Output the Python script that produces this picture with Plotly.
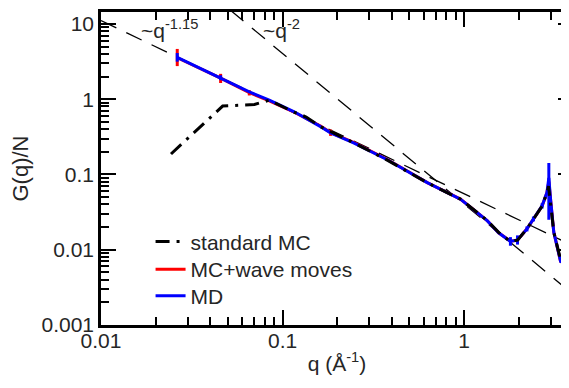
import plotly.graph_objects as go

# ---- data ----
q_md = [0.0263, 0.0456, 0.0656, 0.0845, 0.116, 0.162, 0.184, 0.248, 0.3775, 0.627, 0.774,
        0.955, 1.34, 1.55, 1.80, 1.97, 2.22, 2.41, 2.69, 2.86, 2.93, 3.0, 3.12, 3.40, 3.62]
G_md = [3.6, 1.93, 1.25, 0.97, 0.68, 0.432, 0.357, 0.261, 0.157, 0.0778, 0.0603,
        0.0469, 0.0243, 0.0168, 0.0129, 0.0135, 0.0189, 0.0256, 0.0383, 0.0574, 0.09, 0.045, 0.0171, 0.0070, 0.0066]
err_md_plus = [0.5, 0.15, 0, 0, 0, 0, 0, 0, 0, 0, 0,
               0, 0, 0, 0.0018, 0.002, 0.0015, 0.002, 0.003, 0, 0.052, 0, 0, 0, 0]
err_md_minus = [0.45, 0.14, 0, 0, 0, 0, 0, 0, 0, 0, 0,
                0, 0, 0, 0.0016, 0.0018, 0.0014, 0.0018, 0.003, 0, 0.065, 0, 0, 0, 0]

q_wave = [0.0263, 0.0456, 0.0656, 0.0845, 0.116, 0.162, 0.184, 0.248, 0.3775, 0.627, 0.774,
          0.955, 1.34, 1.55, 1.80, 1.97, 2.22, 2.41, 2.69, 2.86, 2.93, 3.0, 3.12, 3.40, 3.62]
G_wave = [3.55, 1.9, 1.22, 0.95, 0.67, 0.44, 0.36, 0.265, 0.158, 0.078, 0.0605,
          0.047, 0.0244, 0.0168, 0.013, 0.0134, 0.019, 0.0255, 0.038, 0.057, 0.08, 0.045, 0.0172, 0.0070, 0.0066]
err_wave_plus = [1.1, 0.27, 0.1, 0, 0, 0, 0.035, 0, 0, 0, 0,
                 0, 0, 0, 0, 0, 0, 0, 0, 0, 0, 0, 0, 0, 0]
err_wave_minus = [0.8, 0.26, 0.1, 0, 0, 0, 0.035, 0, 0, 0, 0,
                  0, 0, 0, 0, 0, 0, 0, 0, 0, 0, 0, 0, 0, 0]

q_mc = [0.0243, 0.0468, 0.070, 0.0845, 0.116, 0.135, 0.162, 0.2, 0.248, 0.3775, 0.627,
        0.955, 1.34, 1.55, 1.80, 1.97, 2.22, 2.41, 2.69, 2.86, 2.92, 3.12, 3.40, 3.58]
G_mc = [0.187, 0.81, 0.85, 0.97, 0.67, 0.58, 0.43, 0.34, 0.262, 0.155, 0.0775,
        0.047, 0.0245, 0.017, 0.0128, 0.0134, 0.019, 0.0255, 0.038, 0.057, 0.070, 0.0171, 0.0074, 0.0066]

# guide power laws  G = A * q^(-n)
guide_q = [0.01, 4.0]
A_115, n_115 = 0.0554, 1.15
A_2, n_2 = 0.0405, 2.0

x_tickvals = [0.01, 0.1, 1]
x_ticktext = ["0.01", "0.1", "1"]
y_tickvals = [0.001, 0.01, 0.1, 1, 10]
y_ticktext = ["0.001", "0.01", "0.1", "1", "10"]

FONT = "Liberation Sans, Arial, sans-serif"
TXT = "#262626"
FS = 21

fig = go.Figure()

dash_guide = "17px,11px"
fig.add_trace(go.Scatter(x=guide_q, y=[A_115 * q ** (-n_115) for q in guide_q], mode="lines",
                         line=dict(color="black", width=1.3, dash=dash_guide),
                         showlegend=False, hoverinfo="skip"))
fig.add_trace(go.Scatter(x=guide_q, y=[A_2 * q ** (-n_2) for q in guide_q], mode="lines",
                         line=dict(color="black", width=1.3, dash=dash_guide),
                         showlegend=False, hoverinfo="skip"))

fig.add_trace(go.Scatter(x=q_wave, y=G_wave, mode="lines", name="MC+wave moves", legend="legend2",
                         line=dict(color="#ff0000", width=3),
                         error_y=dict(type="data", array=err_wave_plus, arrayminus=err_wave_minus,
                                      symmetric=False, color="#ff0000", thickness=3, width=0)))
fig.add_trace(go.Scatter(x=q_md, y=G_md, mode="lines", name="MD", legend="legend3",
                         line=dict(color="#0000ff", width=3),
                         error_y=dict(type="data", array=err_md_plus, arrayminus=err_md_minus,
                                      symmetric=False, color="#0000ff", thickness=3, width=0)))
fig.add_trace(go.Scatter(x=q_mc, y=G_mc, mode="lines", name="standard MC", legend="legend",
                         line=dict(color="black", width=3, dash="14px,7px,3px,7px")))

axis_common = dict(type="log", showline=True, linecolor="black", linewidth=2.5, mirror="allticks",
                   ticks="inside", ticklen=15, tickwidth=1.8, tickcolor="black",
                   showgrid=False, zeroline=False,
                   tickfont=dict(family=FONT, size=FS, color=TXT))

fig.update_xaxes(**axis_common, range=[-2, 0.6], tickvals=x_tickvals, ticktext=x_ticktext,
                 ticklabelstandoff=-5,
                 minor=dict(ticks="inside", ticklen=8, tickwidth=1.5, tickcolor="black",
                            tickvals=[m * d for d in (0.01, 0.1, 1) for m in range(2, 10) if m * d < 4]),
                 title=dict(text="q (Å<sup>-1</sup>)", font=dict(family=FONT, size=FS, color=TXT), standoff=6))
fig.update_yaxes(**axis_common, range=[-3, 1.158], tickvals=y_tickvals, ticktext=y_ticktext,
                 minor=dict(ticks="inside", ticklen=8, tickwidth=1.5, tickcolor="black",
                            tickvals=[m * d for d in (0.001, 0.01, 0.1, 1, 10) for m in range(2, 10) if m * d < 14]),
                 title=dict(text="G(q)/N", font=dict(family=FONT, size=FS + 1, color=TXT), standoff=10))

fig.add_annotation(x=0.08, y=0.945, xref="paper", yref="paper", xanchor="left", yanchor="middle",
                   text="~q<sup>-1.15</sup>", showarrow=False, font=dict(family=FONT, size=FS, color=TXT))
fig.add_annotation(x=0.34, y=0.945, xref="paper", yref="paper", xanchor="left", yanchor="middle",
                   text="~q<sup>-2</sup>", showarrow=False, font=dict(family=FONT, size=FS, color=TXT))

leg_common = dict(x=0.105, xanchor="left", yanchor="middle", bgcolor="rgba(0,0,0,0)",
                  font=dict(family=FONT, size=FS, color=TXT))
fig.update_layout(
    width=569, height=388,
    margin=dict(l=93, r=3, t=1, b=71),
    paper_bgcolor="white", plot_bgcolor="white",
    showlegend=True,
    legend=dict(y=0.266, **leg_common),
    legend2=dict(y=0.177, **leg_common),
    legend3=dict(y=0.092, **leg_common),
)

fig.write_html("out.html")
